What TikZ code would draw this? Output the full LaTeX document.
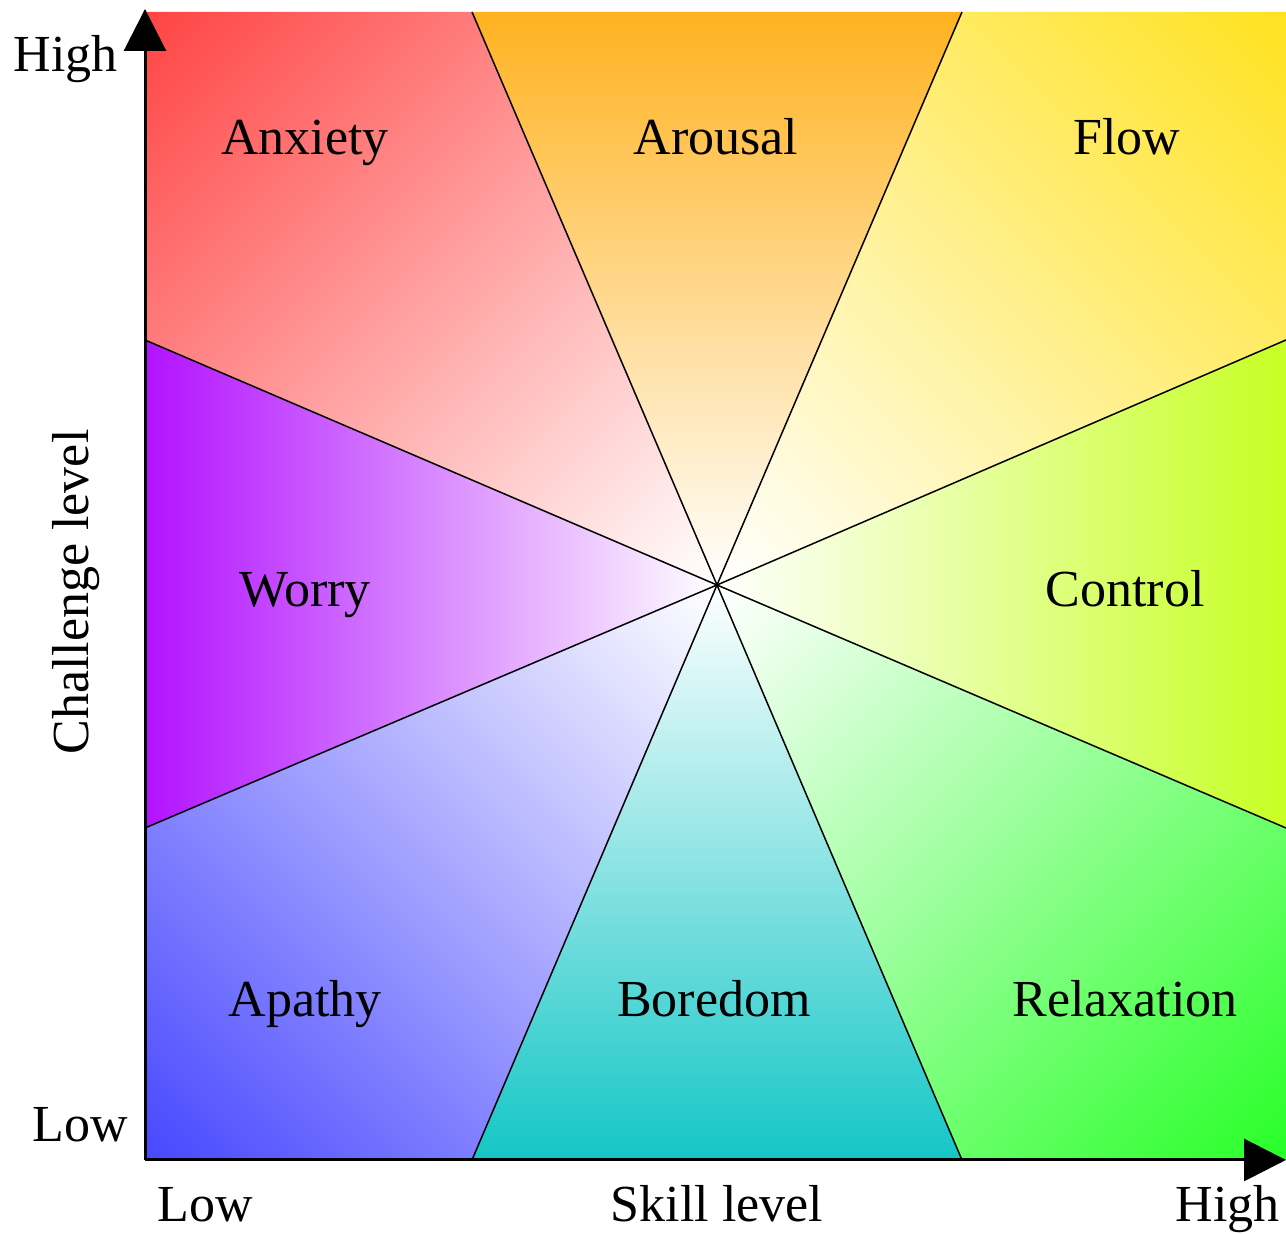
\documentclass[tikz,border=0pt]{standalone}
\usepackage{fontspec}
\setmainfont{Liberation Serif}
\usetikzlibrary{arrows.meta}
\definecolor{anxietyred}{RGB}{255,68,68}
\definecolor{arousalorange}{RGB}{255,178,32}
\definecolor{flowyellow}{RGB}{255,226,32}
\definecolor{controlgreen}{RGB}{198,255,36}
\definecolor{relaxgreen}{RGB}{40,255,40}
\definecolor{boredomteal}{RGB}{20,198,198}
\definecolor{apathyblue}{RGB}{72,72,255}
\definecolor{worrypurple}{RGB}{178,18,255}
\colorlet{fadecol}{white}
% corner shading: colour in the corner, white in the middle of the chart
\pgfdeclareverticalshading[fadecol]{cornerfade}{100bp}{color(0bp)=(white); color(14.65bp)=(white); color(85.35bp)=(fadecol); color(100bp)=(fadecol)}
\tikzset{
  corner/.style 2 args={shading=cornerfade,shading angle=#2,/utils/exec={\colorlet{fadecol}{#1}}},
  divider/.style={line width=0.75pt,black},
  axis/.style={line width=1.5pt,-{Triangle[length=21pt,width=21pt]}},
  zone/.style={font=\fontsize{26}{30}\selectfont,anchor=base,inner sep=0pt},
  tick/.style={font=\fontsize{26}{30}\selectfont,inner sep=0pt},
}

\begin{document}
\begin{tikzpicture}[x=0.5pt,y=0.5pt]
        \useasboundingbox (0,0) rectangle (1286,1234);
        \coordinate (o) at (145,74);
        \coordinate (tl) at (145,1222);
        \coordinate (tr) at (1286,1222);
        \coordinate (br) at (1286,74);
        \coordinate (m) at (717,649);
        \coordinate (ytip) at (145,1225);
        \coordinate (xtip) at (1286,74);
        % where the dividers meet the border
        \coordinate (t1) at (472,1222);
        \coordinate (t2) at (962,1222);
        \coordinate (l1) at (145,894);
        \coordinate (l2) at (145,406);
        \coordinate (r1) at (1286,894);
        \coordinate (r2) at (1286,406);
        \coordinate (b1) at (472,74);
        \coordinate (b2) at (962,74);

        \shade[corner={anxietyred}{45}] (tl) -- (t1) -- (m) -- (l1) -- cycle;
        \shade[top color=arousalorange,bottom color=white] (t1) -- (t2) -- (m) -- cycle;
        \shade[corner={flowyellow}{-45}] (t2) -- (tr) -- (r1) -- (m) -- cycle;
        \shade[left color=white,right color=controlgreen] (m) -- (r1) -- (r2) -- cycle;
        \shade[corner={relaxgreen}{-135}] (m) -- (r2) -- (br) -- (b2) -- cycle;
        \shade[top color=white,bottom color=boredomteal] (m) -- (b2) -- (b1) -- cycle;
        \shade[corner={apathyblue}{135}] (m) -- (b1) -- (o) -- (l2) -- cycle;
        \shade[left color=worrypurple,right color=white] (m) -- (l2) -- (l1) -- cycle;

        \foreach \p in {t1,t2,r1,r2,b2,b1,l2,l1}
            \draw[divider] (m) -- (\p);

        \draw[axis] (o) -- (ytip);
        \draw[axis] (o) -- (xtip);

        \node[zone] (anxiety) at (305,1079) {Anxiety};
        \node[zone] (arousal) at (716,1079) {Arousal};
        \node[zone] (flow) at (1127,1079) {Flow};
        \node[zone] (worry) at (305,627) {Worry};
        \node[zone] (control) at (1125,627) {Control};
        \node[zone] (apathy) at (305,217) {Apathy};
        \node[zone] (boredom) at (714,217) {Boredom};
        \node[zone] (relaxation) at (1125,217) {Relaxation};

        \node[tick,anchor=base east] (yhigh) at (118,1162) {High};
        \node[tick,anchor=base east] (ylow) at (128,92) {Low};
        \node[tick,rotate=90,anchor=base] (yname) at (88,642) {Challenge level};
        \node[tick,anchor=base west] (xlow) at (157,12) {Low};
        \node[tick,anchor=base] (xname) at (717,12) {Skill level};
        \node[tick,anchor=base east] (xhigh) at (1280,12) {High};
\end{tikzpicture}
\end{document}
